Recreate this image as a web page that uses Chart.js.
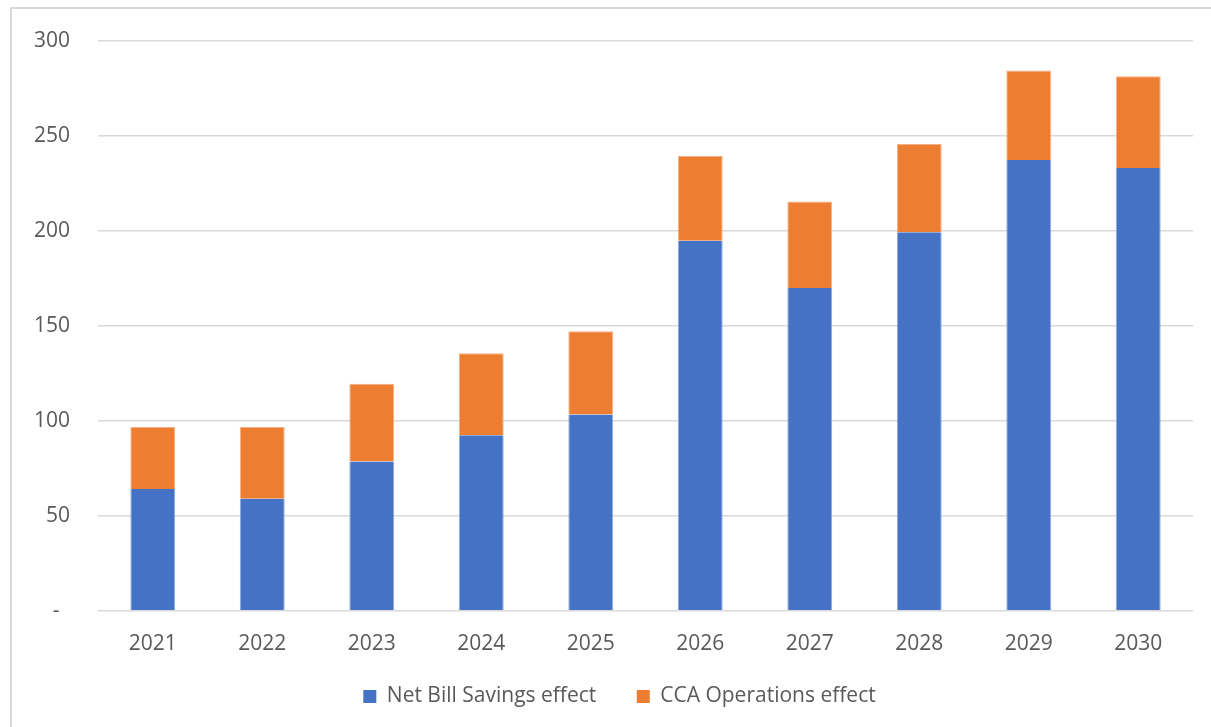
<!DOCTYPE html>
<html>
<head>
<meta charset="utf-8">
<script src="https://cdn.jsdelivr.net/npm/chart.js@4/dist/chart.umd.min.js"></script>
<style>
  html, body { margin: 0; padding: 0; background: #fff; overflow: hidden; }
  #frame { position: absolute; left: 10px; top: 7px; width: 1220px; height: 740px; border: 2px solid #d9d9d9; box-sizing: border-box; }
  #wrap { position: absolute; left: 0; top: 0; width: 1211px; height: 727px; }
</style>
</head>
<body>
<div id="frame"></div>
<div id="wrap"><canvas id="chart"></canvas></div>
<script>
const years = ['2021', '2022', '2023', '2024', '2025', '2026', '2027', '2028', '2029', '2030'];
const netBillSavings = [64.1, 59.0, 78.5, 92.3, 103.3, 194.7, 169.8, 199.2, 237.2, 233.0];
const ccaOperations = [32.6, 37.7, 41.0, 43.2, 43.8, 44.6, 45.5, 46.4, 47.1, 48.3];

const textColor = '#595959';
const fontFamily = "'Open Sans', 'Liberation Sans', sans-serif";
const fontSize = 21;

// legend sits a bit right of the canvas centre in the original
const shiftLegend = {
  id: 'shiftLegend',
  afterLayout(chart) {
    chart.legend.left += 20;
    chart.legend.right += 20;
  }
};

const ctx = document.getElementById('chart').getContext('2d');
new Chart(ctx, {
  type: 'bar',
  data: {
    labels: years,
    datasets: [
      { label: 'Net Bill Savings effect', data: netBillSavings, backgroundColor: '#4472C4', borderColor: '#8faadc', borderWidth: { left: 1, right: 1, top: 0, bottom: 0 }, barPercentage: 0.41, categoryPercentage: 1 },
      { label: 'CCA Operations effect', data: ccaOperations, backgroundColor: '#ED7D31', borderColor: '#f4b183', borderWidth: { left: 1, right: 1, top: 1, bottom: 0 }, barPercentage: 0.41, categoryPercentage: 1 }
    ]
  },
  options: {
    responsive: true,
    maintainAspectRatio: false,
    animation: false,
    layout: { padding: { left: 6, right: 18, top: 24, bottom: 10 } },
    plugins: {
      tooltip: { enabled: false },
      legend: {
        position: 'bottom',
        labels: {
          color: textColor,
          font: { family: fontFamily, size: fontSize },
          boxWidth: 13,
          boxHeight: 13,
          padding: 16,
          generateLabels(chart) {
            const items = Chart.defaults.plugins.legend.labels.generateLabels(chart);
            items.forEach((it, i) => {
              it.lineWidth = 0;
              if (i < items.length - 1) it.text += '\u2003\u2009';
            });
            return items;
          }
        }
      }
    },
    scales: {
      x: {
        stacked: true,
        grid: { display: false },
        border: { display: false },
        ticks: { color: textColor, font: { family: fontFamily, size: fontSize }, padding: 13 }
      },
      y: {
        stacked: true,
        min: 0,
        max: 300,
        grid: { color: '#d9d9d9', lineWidth: 1.5, drawTicks: false },
        border: { display: false },
        ticks: {
          stepSize: 50,
          color: textColor,
          font: { family: fontFamily, size: fontSize },
          padding: 28,
          callback: v => v === 0 ? '-\u2002' : v
        }
      }
    }
  },
  plugins: [shiftLegend]
});
</script>
</body>
</html>
